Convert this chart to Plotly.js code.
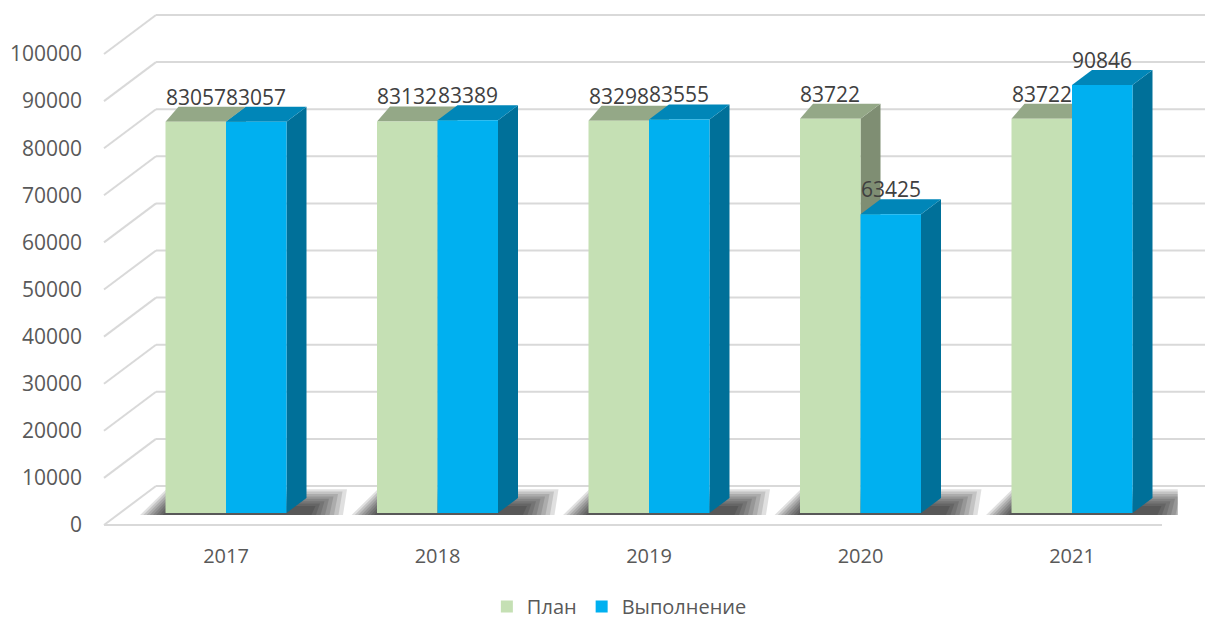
<!DOCTYPE html>
<html><head><meta charset="utf-8">
<script src="https://cdn.plot.ly/plotly-3.0.1.min.js"></script>
<style>html,body{margin:0;padding:0;background:#fff}#chart{width:1205px;height:626px}</style>
</head><body><div id="chart"></div>
<script>
// ---- data ----
const years = ['2017', '2018', '2019', '2020', '2021'];
const plan = [83057, 83132, 83298, 83722, 83722];
const done = [83057, 83389, 83555, 63425, 90846];
const yTicks = [0, 10000, 20000, 30000, 40000, 50000, 60000, 70000, 80000, 90000, 100000];
const seriesNames = ['План', 'Выполнение'];

// ---- geometry (pixels) ----
const W = 1205, H = 626;
const K = 0.00471;          // px per unit
const catPx = 211.5;        // px per category
const x0px = 226;           // centre of first category
const base0 = 513;          // bar base px
const plotTop = 5, plotBot = 530;
const frontZero = 525, backZero = 486, wallLeft = 156, labLeft = 104, floorRight = 1162;
const barW = 60.5 / catPx;
const dxL = 13 / catPx, dxR = 20 / catPx, dy = 15 / K;

const colors = {
  planFront: '#C5E0B4', planTop: '#94A887', planSide: '#7F8E73',
  doneFront: '#00B0F0', doneTop: '#0086B8', doneSide: '#007099',
  grid: '#D9D9D9', text: '#595959', label: '#404040'
};
const font = 'Open Sans, Noto Sans, sans-serif';

const px = v => v / W, py = v => 1 - v / H;
const shapes = [];

// back wall gridlines, side diagonals and floor
yTicks.forEach(v => {
  const yb = backZero - v * K, yf = frontZero - v * K;
  shapes.push({type: 'line', layer: 'below', xref: 'paper', yref: 'paper',
    x0: px(wallLeft), x1: 1, y0: py(yb), y1: py(yb), line: {color: colors.grid, width: 2}});
  shapes.push({type: 'line', layer: 'below', xref: 'paper', yref: 'paper',
    x0: px(labLeft), x1: px(wallLeft), y0: py(yf), y1: py(yb), line: {color: colors.grid, width: 2}});
});
shapes.push({type: 'line', layer: 'below', xref: 'paper', yref: 'paper',
  x0: px(labLeft), x1: px(floorRight), y0: py(frontZero), y1: py(frontZero), line: {color: colors.grid, width: 2}});

const P = pts => 'M' + pts.map(p => p[0] + ',' + p[1]).join('L') + 'Z';
const poly = (pts, fill, op) => ({type: 'path', layer: 'below', xref: 'x', yref: 'y',
  path: P(pts), fillcolor: fill, opacity: op === undefined ? 1 : op, line: {width: 0}});

// soft shadows (several translucent layers)
const u = p => p / catPx, uy = p => p / K;
years.forEach((_, i) => {
  const gl = i - barW, gr = i + barW + dxR;
  for (let j = 7; j >= 0; j--) {
    const eL = 3 + 3.2 * j, eR = 5 + 4.5 * j, h = 7 + 2.4 * j;
    shapes.push(poly([[gl - u(eL), -uy(2)], [gr + u(eR), -uy(2)],
      [gr + u(eR) + u(4), uy(h)], [gl - u(eL) + u(h * 1.1), uy(h)]], '#000', 0.12));
  }
});

// 3D faces (tops & sides); front faces are the bar traces drawn above
years.forEach((_, i) => {
  const g = plan[i], b = done[i];
  const gl = i - barW, gr = i, bl = i, br = i + barW;
  shapes.push(poly([[gr, 0], [gr, g], [gr + dxR, g + dy], [gr + dxR, dy]], colors.planSide));
  shapes.push(poly([[gl, g], [gr, g], [gr + dxR, g + dy], [gl + dxL, g + dy]], colors.planTop));
  shapes.push(poly([[br, 0], [br, b], [br + dxR, b + dy], [br + dxR, dy]], colors.doneSide));
  shapes.push(poly([[bl, b], [br, b], [br + dxR, b + dy], [bl + dxR, b + dy]], colors.doneTop));
});

const idx = years.map((_, i) => i);
const traces = [
  {type: 'bar', name: seriesNames[0], x: idx, y: plan, width: barW, offset: -barW,
   marker: {color: colors.planFront, line: {width: 0}}, hoverinfo: 'skip'},
  {type: 'bar', name: seriesNames[1], x: idx, y: done, width: barW, offset: 0,
   marker: {color: colors.doneFront, line: {width: 0}}, hoverinfo: 'skip'}
];

const annotations = [];
idx.forEach(i => {
  annotations.push({x: i - barW / 2, y: plan[i], xref: 'x', yref: 'y', text: String(plan[i]),
    showarrow: false, yshift: 25, font: {family: font, size: 21, color: colors.label}});
  annotations.push({x: i + barW / 2, y: done[i], xref: 'x', yref: 'y', text: String(done[i]),
    showarrow: false, yshift: 25, font: {family: font, size: 21, color: colors.label}});
});

const layout = {
  width: W, height: H, margin: {l: 0, r: 0, t: 0, b: 0},
  paper_bgcolor: '#fff', plot_bgcolor: 'rgba(0,0,0,0)',
  barmode: 'overlay', showlegend: true,
  font: {family: font, color: colors.text},
  xaxis: {domain: [(x0px - catPx / 2) / W, (x0px + catPx * 4.5) / W], range: [-0.5, 4.5],
    tickvals: idx, ticktext: years, showgrid: false, zeroline: false, showline: false, ticks: '',
    tickfont: {size: 20, color: colors.text}, ticklabelstandoff: 12, fixedrange: true},
  yaxis: {domain: [1 - plotBot / H, 1 - plotTop / H], range: [-(plotBot - base0) / K, (base0 - plotTop) / K],
    showgrid: false, zeroline: false, showline: false, showticklabels: false, ticks: '', fixedrange: true},
  yaxis2: {overlaying: 'y', anchor: 'free', position: 0.068, side: 'left',
    range: [-(plotBot - frontZero) / K, (frontZero - plotTop) / K], tickvals: yTicks, tickformat: 'd',
    showgrid: false, zeroline: false, showline: false, ticks: '',
    tickfont: {size: 21, color: colors.text}, fixedrange: true},
  legend: {orientation: 'h', x: 0.514, xanchor: 'center', y: 0, yanchor: 'bottom',
    font: {size: 20, color: colors.text}, itemwidth: 30},
  shapes: shapes, annotations: annotations
};
// invisible trace so the label axis is drawn
traces.push({type: 'scatter', x: [0], y: [0], yaxis: 'y2', mode: 'none', showlegend: false, hoverinfo: 'skip'});

Plotly.newPlot('chart', traces, layout, {staticPlot: true, displayModeBar: false});
</script></body></html>
